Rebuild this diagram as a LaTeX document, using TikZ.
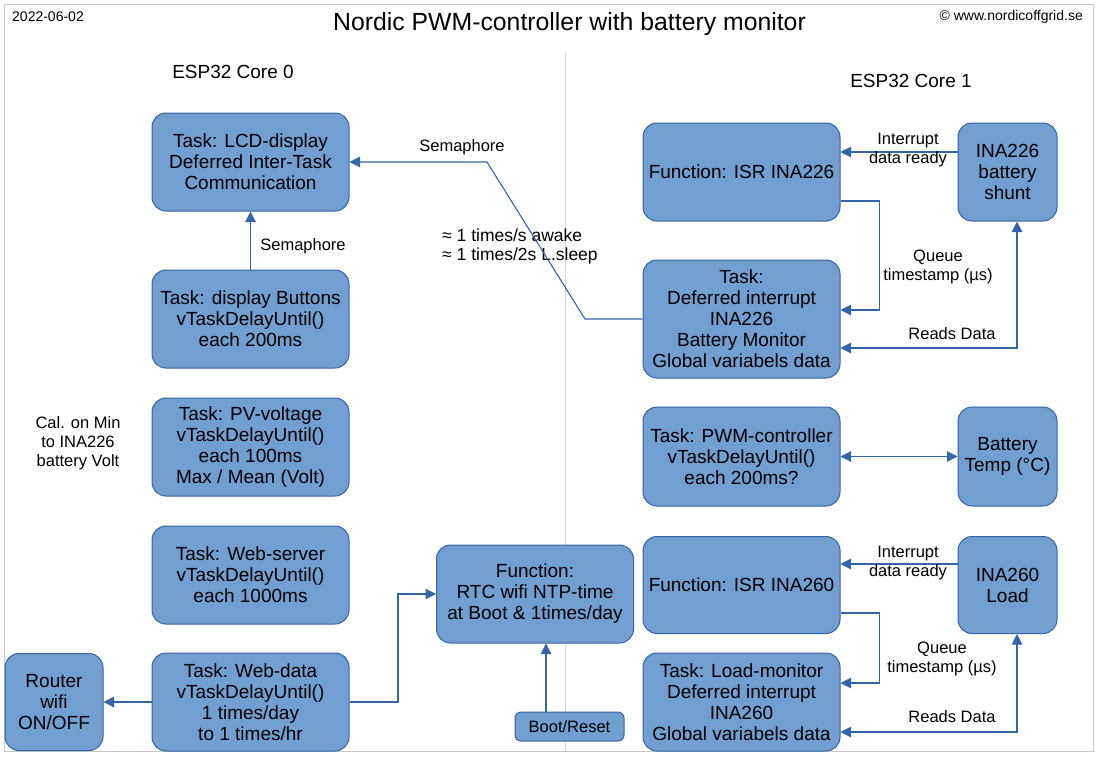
\documentclass[tikz,border=0pt]{standalone}
\usepackage{fontspec}
\setmainfont{Liberation Sans}
\usetikzlibrary{arrows.meta,calc}
\definecolor{boxfill}{HTML}{729FCF}
\definecolor{boxline}{HTML}{3465A4}
\definecolor{framegrey}{HTML}{C8C8C8}
\definecolor{divgrey}{HTML}{D6D6D6}
\tikzset{
  box/.style={draw=boxline, fill=boxfill, line width=1pt, rounded corners=14pt,
    align=center, inner sep=0pt, font=\fontsize{19}{21}\selectfont,
    minimum width=197pt, minimum height=98pt},
  smallbox/.style={box, minimum width=99pt},
  conn/.style={draw=boxline, line width=1.1pt},
  arr/.style={conn, -{Triangle[length=10.5pt,width=10.5pt]}},
  darr/.style={conn, {Triangle[length=10.5pt,width=10.5pt]}-{Triangle[length=10.5pt,width=10.5pt]}},
  lbl/.style={align=center, inner sep=0pt, font=\fontsize{16.5}{19}\selectfont},
}
\begin{document}
\begin{tikzpicture}[x=1pt,y=-1pt]
\useasboundingbox (0,0) rectangle (1100,758);
\fill[white] (0,0) rectangle (1100,758);
\draw[framegrey, line width=1pt] (4,4) rectangle (1093,751);
\draw[divgrey, line width=1pt] (565.5,53) -- (565.5,751);

% header
\node[anchor=west, inner sep=0pt, font=\fontsize{14}{16}\selectfont] (date) at (12,17) {2022-06-02};
\node[anchor=east, inner sep=0pt, font=\fontsize{14}{16}\selectfont] (copy) at (1083,17) {© www.nordicoffgrid.se};
\node[inner sep=0pt, font=\fontsize{24.8}{28}\selectfont] (title) at (569.5,24) {Nordic PWM-controller with battery monitor};
\node[inner sep=0pt, font=\fontsize{19}{22}\selectfont] (core0) at (233,72) {ESP32 Core 0};
\node[inner sep=0pt, font=\fontsize{19}{22}\selectfont] (core1) at (911,81) {ESP32 Core 1};

% core 0 boxes
\node[box] (lcd) at (250.5,162) {Task: LCD-display\\Deferred Inter-Task\\Communication};
\node[box] (btn) at (250.5,319) {Task: display Buttons\\vTaskDelayUntil()\\each 200ms};
\node[box] (pv) at (250.5,447) {Task: PV-voltage\\vTaskDelayUntil()\\each 100ms\\Max / Mean (Volt)};
\node[box] (web) at (250.5,575) {Task: Web-server\\vTaskDelayUntil()\\each 1000ms};
\node[box] (wdata) at (250.5,702) {Task: Web-data\\vTaskDelayUntil()\\1 times/day\\to 1 times/hr};
\node[smallbox, minimum width=98pt, minimum height=97pt] (router) at (54,702) {Router\\wifi\\ON/OFF};
\node[box] (rtc) at (535,594) {Function:\\RTC wifi NTP-time\\at Boot \& 1times/day};
\node[box, rounded corners=6pt, minimum width=109pt, minimum height=29pt, font=\fontsize{16.5}{19}\selectfont] (boot) at (569.5,726.5) {Boot/Reset};

% core 1 boxes
\node[box] (isr1) at (741.5,172) {Function: ISR INA226};
\node[box, minimum height=118pt] (def1) at (741.5,319) {Task:\\Deferred interrupt\\INA226\\Battery Monitor\\Global variabels data};
\node[smallbox] (shunt) at (1007.5,172) {INA226\\battery\\shunt};
\node[box, minimum height=99pt] (pwm) at (741.5,456.5) {Task: PWM-controller\\vTaskDelayUntil()\\each 200ms?};
\node[smallbox, minimum height=99pt] (temp) at (1007.5,456.5) {Battery\\Temp (°C)};
\node[box, minimum height=97pt] (isr2) at (741.5,585) {Function: ISR INA260};
\node[box] (load) at (741.5,702) {Task: Load-monitor\\Deferred interrupt\\INA260\\Global variabels data};
\node[smallbox, minimum height=97pt] (ina260) at (1007.5,585) {INA260\\Load};

% side texts
\node[lbl] (cal) at (78,443) {Cal. on Min\\to INA226\\battery Volt};
\node[lbl, anchor=west, align=left, font=\fontsize{17.5}{19}\selectfont] (rate) at (442,246) {≈ 1 times/s awake\\≈ 1 times/2s L.sleep};

% core 0 connectors
\coordinate (kneeA) at (585,319);
\coordinate (kneeB) at (487,162);
\draw[arr] (def1.west) -- (kneeA) -- (kneeB) -- (lcd.east);
\node[lbl] (semtop) at (462,147) {Semaphore};
\draw[arr] (btn.north) -- (lcd.south);
\node[lbl] (semleft) at (303,246) {Semaphore};
\draw[arr] (wdata.west) -- (router.east);
\coordinate (kneeC) at (398,702);
\draw[arr] (wdata.east) -- (kneeC) |- (rtc.west);
\draw[arr] ([xshift=-23.5pt]boot.north) -- ([xshift=-23.5pt]boot.north |- rtc.south);

% core 1 connectors (INA226)
\draw[arr] ([yshift=20pt]shunt.west) -- ([yshift=20pt]isr1.east);
\node[lbl] (int1) at (908,150) {Interrupt\\data ready};
\draw[arr] ([yshift=-29pt]isr1.east) -- ++(39,0) |- ([yshift=9pt]def1.east);
\node[lbl] (q1) at (938,267) {Queue\\timestamp (µs)};
\draw[darr] ([yshift=-29pt]def1.east) -| ([xshift=9.5pt]shunt.south);
\node[lbl] (rd1) at (952,334) {Reads Data};

% PWM
\draw[darr] (pwm.east) -- (temp.west);

% core 1 connectors (INA260)
\draw[arr] ([yshift=21pt]ina260.west) -- ([yshift=21pt]isr2.east);
\node[lbl] (int2) at (908,563) {Interrupt\\data ready};
\draw[arr] ([yshift=-28pt]isr2.east) -- ++(39,0) |- ([yshift=19pt]load.east);
\node[lbl] (q2) at (942,658.5) {Queue\\timestamp (µs)};
\draw[darr] ([yshift=-30pt]load.east) -| ([xshift=9.5pt]ina260.south);
\node[lbl] (rd2) at (952,717) {Reads Data};
\end{tikzpicture}
\end{document}
